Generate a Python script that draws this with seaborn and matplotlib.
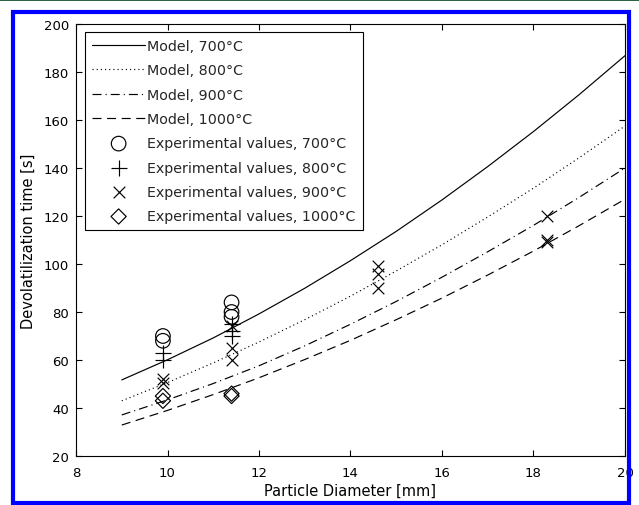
import numpy as np
import pandas as pd
import matplotlib
matplotlib.use("Agg")
import matplotlib.pyplot as plt
import seaborn as sns
from matplotlib.patches import Rectangle
from matplotlib.lines import Line2D

# ---- data ----
diam = [9, 10, 11, 12, 13, 14, 15, 16, 17, 18, 19, 20]
model_700 = [51.7, 60.1, 69.2, 79.2, 89.9, 101.4, 113.6, 126.7, 140.6, 155.2, 170.6, 186.8]
model_800 = [43.0, 50.6, 58.8, 67.5, 76.8, 86.6, 97.1, 108.0, 119.6, 131.6, 144.3, 157.5]
model_900 = [37.1, 43.4, 50.2, 57.6, 65.9, 74.9, 84.4, 94.5, 105.1, 116.1, 127.8, 140.0]
model_1000 = [32.9, 39.0, 45.6, 52.6, 60.2, 68.2, 76.8, 85.8, 95.4, 105.4, 116.0, 127.0]

exp700_x = [9.9, 9.9, 11.4, 11.4, 11.4]
exp700_y = [70, 68, 84, 80, 78]
exp800_x = [9.9, 9.9, 11.4, 11.4, 11.4]
exp800_y = [63, 60, 75, 72, 70]
exp900_x = [9.9, 9.9, 11.4, 11.4, 11.4, 14.6, 14.6, 14.6, 18.3, 18.3, 18.3]
exp900_y = [52, 50.5, 74, 65, 60, 99, 96, 90, 120, 110, 109]
exp1000_x = [9.9, 9.9, 11.4, 11.4]
exp1000_y = [45, 43, 46, 45]

xticks = [8, 10, 12, 14, 16, 18, 20]
yticks = [20, 40, 60, 80, 100, 120, 140, 160, 180, 200]

sns.set_theme(style="white")
plt.rcParams["font.family"] = ["DejaVu Sans"]
plt.rcParams["lines.scale_dashes"] = False

fig = plt.figure(figsize=(6.39, 5.06), dpi=100)
fig.patch.set_facecolor("white")
ax = fig.add_axes([76 / 639, 1 - 457 / 506, 549 / 639, 432 / 506])
ax.set_facecolor("white")

models = [
    (model_700, "Model, 700°C", "-"),
    (model_800, "Model, 800°C", (0, (0.8, 2.2))),
    (model_900, "Model, 900°C", (0, (6.5, 2.9, 0.8, 2.9))),
    (model_1000, "Model, 1000°C", (0, (6.5, 4.0))),
]
for vals, lab, ls in models:
    df = pd.DataFrame({"d": diam, "t": vals})
    sns.lineplot(data=df, x="d", y="t", ax=ax, color="black", linewidth=0.85,
                 linestyle=ls, label=lab, legend=False)

exps = [
    (exp700_x, exp700_y, "o", 110, "Experimental values, 700°C"),
    (exp800_x, exp800_y, "+", 125, "Experimental values, 800°C"),
    (exp900_x, exp900_y, "x", 70, "Experimental values, 900°C"),
    (exp1000_x, exp1000_y, "D", 60, "Experimental values, 1000°C"),
]
for xs, ys, mk, s, lab in exps:
    df = pd.DataFrame({"d": xs, "t": ys})
    if mk in ("o", "D"):
        sns.scatterplot(data=df, x="d", y="t", ax=ax, marker=mk, s=s,
                        facecolor="none", edgecolor="black", linewidth=0.85,
                        label=lab, legend=False)
    else:
        sns.scatterplot(data=df, x="d", y="t", ax=ax, marker=mk, s=s,
                        color="black", linewidth=0.85, label=lab, legend=False)

ax.set_xlim(8, 20)
ax.set_ylim(20, 200)
ax.set_xticks(xticks)
ax.set_yticks(yticks)
ax.tick_params(direction="in", length=4, width=0.8, top=True, right=True,
               bottom=True, left=True, labelsize=9.5, colors="black", pad=5)
ax.tick_params(axis="x", pad=7)
for sp in ax.spines.values():
    sp.set_visible(True)
    sp.set_color("black")
    sp.set_linewidth(0.8)
ax.set_xlabel("Particle Diameter [mm]", fontsize=10.5, color="black", labelpad=3)
ax.set_ylabel("Devolatilization time [s]", fontsize=10.5, color="black", labelpad=6)
ax.grid(False)

handles, labels = ax.get_legend_handles_labels()
leg = ax.legend(handles, labels, loc="upper left", bbox_to_anchor=(9 / 549, 1 - 8 / 432),
                borderaxespad=0, fontsize=10.3, frameon=True, fancybox=False,
                edgecolor="black", framealpha=1, handlelength=3.7, handletextpad=0.15,
                labelspacing=0.72, borderpad=0.5, scatterpoints=1)
leg.get_frame().set_linewidth(0.8)

# blue frame and top green line
fig.add_artist(Rectangle((12.5 / 639, 1 - 503.5 / 506), (629 - 12.5) / 639, (503.5 - 12.5) / 506,
                         transform=fig.transFigure, fill=False, edgecolor="#0000ff",
                         linewidth=3.0))
fig.add_artist(Line2D([0, 1], [1 - 0.8 / 506, 1 - 0.8 / 506], transform=fig.transFigure,
                      color="#2a5e3c", linewidth=1.4))

fig.savefig("out.png", dpi=100, facecolor="white")
